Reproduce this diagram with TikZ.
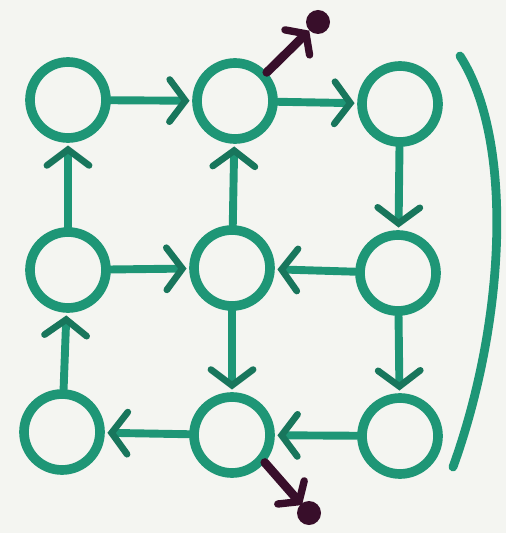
\documentclass[tikz,border=0pt]{standalone}
\usetikzlibrary{arrows.meta}
\definecolor{ink}{RGB}{30,150,118}
\definecolor{inkdark}{RGB}{24,118,92}
\definecolor{plum}{RGB}{56,14,42}
\definecolor{paper}{RGB}{244,245,241}
\begin{document}
\begin{tikzpicture}[x=0.02cm,y=-0.02cm,
  vert/.style={circle,draw=ink,line width=5.5pt,minimum size=1.52cm,inner sep=0pt},
  link/.style={draw=ink,line width=4.5pt,line cap=round,
    -{Straight Barb[length=9pt,width=24pt,line width=3.8pt,color=inkdark,line cap=round]},shorten >=1.5pt},
  outlink/.style={draw=plum,line width=5pt,line cap=round,
    -{Straight Barb[length=7pt,width=20pt,line width=4.2pt,line cap=round]}}]
\fill[paper] (0,0) rectangle (506,533);
\useasboundingbox (0,0) rectangle (506,533);
\node[vert] (a1) at (68,100) {};
\node[vert] (a2) at (235,101) {};
\node[vert] (a3) at (400,104) {};
\node[vert] (b1) at (68,270) {};
\node[vert] (b2) at (232,268) {};
\node[vert] (b3) at (398,273) {};
\node[vert] (c1) at (62,432) {};
\node[vert] (c2) at (232,435) {};
\node[vert] (c3) at (400,436) {};
\draw[link] (a1) -- (a2);
\draw[link] (a2) -- (a3);
\draw[link] (a3) -- (b3);
\draw[link] (b3) -- (c3);
\draw[link] (c3) -- (c2);
\draw[link] (c2) -- (c1);
\draw[link] (c1) -- (b1);
\draw[link] (b1) -- (a1);
\draw[link] (b1) -- (b2);
\draw[link] (b3) -- (b2);
\draw[link] (b2) -- (a2);
\draw[link] (b2) -- (c2);
\coordinate (dtop) at (318,22);
\coordinate (dbot) at (309,513);
\fill[plum] (dtop) circle (12);
\fill[plum] (dbot) circle (12);
\draw[outlink,shorten >=7pt] (a2.42) -- (dtop);
\draw[outlink,shorten >=6pt] (c2.-40) -- (dbot);
\coordinate (p0) at (460,56);
\coordinate (p1) at (514,140);
\coordinate (p2) at (506,320);
\coordinate (p3) at (453,467);
\draw[ink,line width=5pt,line cap=round] (p0) .. controls (p1) and (p2) .. (p3);
\end{tikzpicture}
\end{document}
